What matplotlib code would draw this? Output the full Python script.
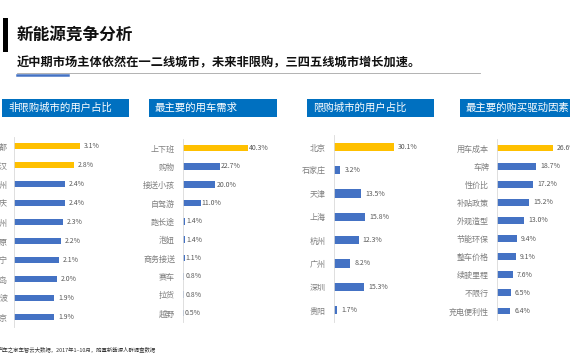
import matplotlib
matplotlib.use("Agg")
import matplotlib.pyplot as plt
from matplotlib.patches import Rectangle
from matplotlib.lines import Line2D

plt.rcParams['font.family'] = ['Noto Sans CJK SC', 'DejaVu Sans']

W, H = 570, 360

title = "新能源竞争分析"
subtitle = "近中期市场主体依然在一二线城市，未来非限购，三四五线城市增长加速。"
footer = "汽车之家车智云大数据，2017年1–10月，购置新能源人群调查数据"

p1_title = "非限购城市的用户占比"
p1_cats = ["成都", "武汉", "郑州", "重庆", "苏州", "太原", "南宁", "青岛", "宁波", "南京"]
p1_vals = [3.1, 2.8, 2.4, 2.4, 2.3, 2.2, 2.1, 2.0, 1.9, 1.9]
p1_hl = 2

p2_title = "最主要的用车需求"
p2_cats = ["上下班", "购物", "接送小孩", "自驾游", "跑长途", "泡妞", "商务接送", "赛车", "拉货", "越野"]
p2_vals = [40.3, 22.7, 20.0, 11.0, 1.4, 1.4, 1.1, 0.8, 0.8, 0.5]
p2_hl = 1

p3_title = "限购城市的用户占比"
p3_cats = ["北京", "石家庄", "天津", "上海", "杭州", "广州", "深圳", "贵阳"]
p3_vals = [30.1, 3.2, 13.5, 15.8, 12.3, 8.2, 15.3, 1.7]
p3_hl = 1

p4_title = "最主要的购买驱动因素"
p4_cats = ["用车成本", "车牌", "性价比", "补贴政策", "外观造型", "节能环保", "整车价格", "续驶里程", "不限行", "充电便利性"]
p4_vals = [26.6, 18.7, 17.2, 15.2, 13.0, 9.4, 9.1, 7.6, 6.5, 6.4]
p4_hl = 1

GOLD = "#FFC000"
BLUE = "#4472C4"
HEAD = "#0070C0"

fig = plt.figure(figsize=(W / 100, H / 100), dpi=100)


def fx(x):
    return x / W


def fy(y):
    return 1 - y / H


# header decorations
fig.patches.append(Rectangle((fx(3), fy(52)), fx(5), 34 / H, transform=fig.transFigure,
                             facecolor="black", edgecolor="none"))
fig.text(fx(17), fy(36), title, fontsize=12, fontweight="bold", va="center", ha="left", color="#111111")
fig.text(fx(17), fy(63), subtitle, fontsize=8.8, fontweight="bold", va="center", ha="left", color="#111111")
fig.lines.append(Line2D([fx(17), fx(480)], [fy(73), fy(73)], transform=fig.transFigure,
                        color="#A6A6A6", lw=0.6))
fig.lines.append(Line2D([fx(17), fx(68)], [fy(75), fy(75)], transform=fig.transFigure,
                        color="#4472C4", lw=1.8))
fig.text(fx(-2), fy(349), footer, fontsize=3.9, va="center", ha="left", color="#333333")


def panel(hx0, hx1, head, axis_x, scale_px, y_first, y_last, cats, vals, hl, bh,
          label_gap=6, val_gap=4):
    # header box
    fig.patches.append(Rectangle((fx(hx0), fy(117)), (hx1 - hx0) / W, 18 / H,
                                 transform=fig.transFigure, facecolor=HEAD, edgecolor="none"))
    fig.text(fx(hx0 + 6), fy(108), head, fontsize=7.5, fontweight="light", color="white",
             va="center", ha="left")
    n = len(vals)
    step = (y_last - y_first) / (n - 1)
    top = y_first - step / 2
    bot = y_last + step / 2
    width_px = 110
    ax = fig.add_axes([fx(axis_x), fy(bot), width_px / W, (bot - top) / H])
    ax.set_xlim(0, width_px / scale_px)
    ax.set_ylim(n - 0.5, -0.5)
    ys = list(range(n))
    colors = [GOLD if i < hl else BLUE for i in range(n)]
    ax.barh(ys, vals, height=bh, color=colors)
    for i, v in enumerate(vals):
        ax.annotate(f"{v:.1f}%", (v, i), xytext=(val_gap * 0.72, 0), textcoords="offset points",
                    va="center", ha="left", fontsize=5, fontweight="light", color="#595959")
    ax.set_yticks(ys)
    ax.set_yticklabels(cats, fontsize=5.8, fontweight="light", color="#7F7F7F")
    ax.tick_params(axis="y", length=0, pad=label_gap * 0.72)
    ax.set_xticks([])
    for s in ["top", "right", "bottom"]:
        ax.spines[s].set_visible(False)
    ax.spines["left"].set_color("#D9D9D9")
    ax.spines["left"].set_linewidth(0.6)
    ax.patch.set_alpha(0)
    return ax


panel(2, 129, p1_title, 14, 66 / 3.1, 146, 317, p1_cats, p1_vals, p1_hl, 0.36)
panel(149, 277, p2_title, 183, 65 / 40.3, 148, 313, p2_cats, p2_vals, p2_hl, 0.38, label_gap=8, val_gap=1)
panel(307, 434, p3_title, 334, 60 / 30.1, 147, 310, p3_cats, p3_vals, p3_hl, 0.36, label_gap=8)
panel(460, 600, p4_title, 497, 56 / 26.6, 148, 311, p4_cats, p4_vals, p4_hl, 0.38, label_gap=8)

fig.savefig("out.png", dpi=100)
